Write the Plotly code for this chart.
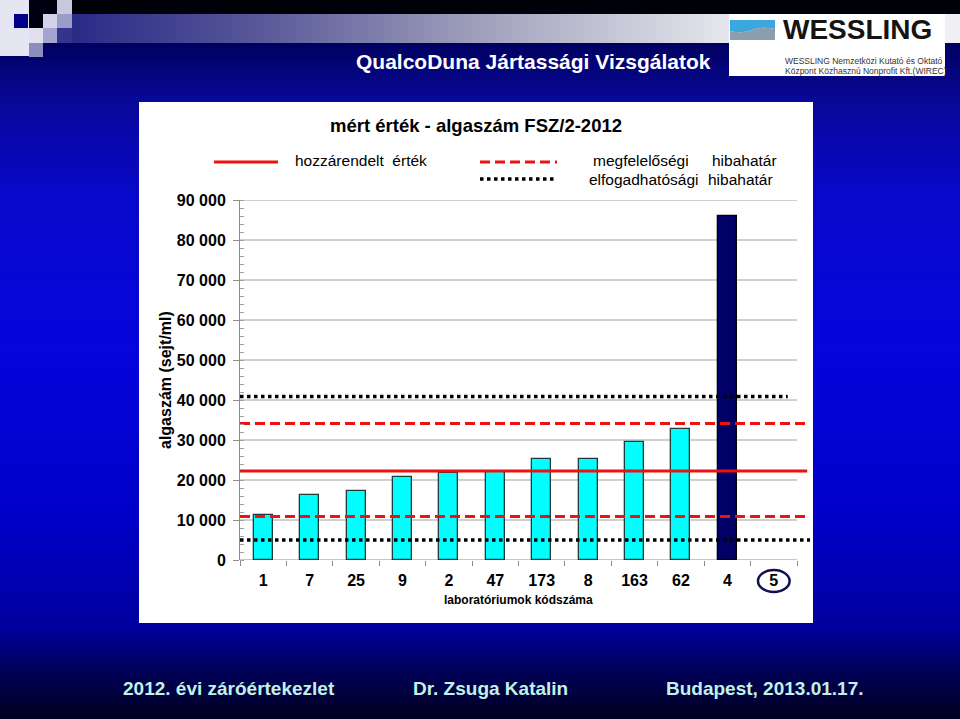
import plotly.graph_objects as go

# ---------------- data ----------------
lab_codes = ["1", "7", "25", "9", "2", "47", "173", "8", "163", "62", "4", "5"]
measured = [11200, 16200, 17250, 20700, 21800, 22100, 25250, 25300, 29500, 32800, 86000, None]
assigned_value = 22250            # hozzárendelt érték
compliance_limits = [10900, 34100]  # megfelelőségi hibahatár
acceptance_limits = [5000, 40900]   # elfogadhatósági hibahatár
ytick_vals = [0, 10000, 20000, 30000, 40000, 50000, 60000, 70000, 80000, 90000]
ytick_text = ["0", "10 000", "20 000", "30 000", "40 000", "50 000", "60 000", "70 000", "80 000", "90 000"]

# ---------------- styles ----------------
W, H = 960, 719
L, R, T, B = 240, 810, 200, 560
PW, PH = R - L, B - T
FONT = "Liberation Sans, Arial, sans-serif"
NARROW = "Liberation Sans Narrow, Arial Narrow, Liberation Sans, Arial, sans-serif"
bar_colors = ["#00ffff"] * 10 + ["#000066", "#00ffff"]
bar_line_colors = ["#1d3d3d"] * 10 + ["#000000", "#1d3d3d"]
X_MIN, X_MAX = -0.5, 11.78


def px(x):
    return (x - L) / PW


def py(y):
    return (B - y) / PH


def hexc(c):
    return "#%02x%02x%02x" % tuple(int(round(v)) for v in c)


shapes = []
annotations = []

# ---- slide background (vertical gradient) ----
stops = [(43, (0, 0, 0x60)), (100, (8, 8, 0x98)), (200, (8, 8, 0xcc)), (350, (5, 5, 0xdc)),
         (520, (0, 0, 0xc8)), (630, (0, 0, 0x9c)), (665, (0, 0, 0x60)), (719, (0, 0, 0x20))]


def grad(y):
    for (y0, c0), (y1, c1) in zip(stops[:-1], stops[1:]):
        if y0 <= y <= y1:
            t = (y - y0) / (y1 - y0)
            return tuple(a + (b - a) * t for a, b in zip(c0, c1))
    return stops[-1][1] if y > stops[-1][0] else stops[0][1]


step = 4
for y in range(40, H + 1, step):
    shapes.append(dict(type="rect", xref="paper", yref="paper", x0=px(0), x1=px(W),
                       y0=py(y), y1=py(y + step + 1), fillcolor=hexc(grad(y + step / 2)),
                       line=dict(width=0), layer="below"))

# black top band
shapes.append(dict(type="rect", xref="paper", yref="paper", x0=px(0), x1=px(W), y0=py(0), y1=py(14),
                   fillcolor="#000008", line=dict(width=0), layer="below"))
# horizontal gradient bar
bar_stops = [(72, (0x2a, 0x2a, 0x88)), (250, (0x55, 0x55, 0x98)), (480, (0xa0, 0xa0, 0xbc)),
             (720, (0xe4, 0xe4, 0xec)), (960, (0xf0, 0xf0, 0xf4))]


def hgrad(x):
    for (x0, c0), (x1, c1) in zip(bar_stops[:-1], bar_stops[1:]):
        if x0 <= x <= x1:
            t = (x - x0) / (x1 - x0)
            return tuple(a + (b - a) * t for a, b in zip(c0, c1))
    return bar_stops[-1][1]


for x in range(72, W, 8):
    shapes.append(dict(type="rect", xref="paper", yref="paper", x0=px(x), x1=px(x + 9),
                       y0=py(14), y1=py(43), fillcolor=hexc(hgrad(x + 4)),
                       line=dict(width=0), layer="below"))

# decorative squares top-left
squares = [
    (0, 0, 29, 56, "#e6e6f2"), (29, 0, 57, 14, "#000010"), (57, 0, 72, 14, "#c8c8dc"),
    (14, 14, 28, 28, "#000088"), (29, 14, 43, 28, "#000010"), (43, 14, 57, 28, "#d2d2e8"),
    (57, 14, 72, 28, "#9c9cc8"), (29, 28, 43, 43, "#e0e0f0"), (43, 28, 57, 43, "#a4a4d0"),
    (29, 43, 43, 57, "#8c8cc0"), (57, 28, 72, 43, "#34348c"),
]
for x0, y0, x1, y1, c in squares:
    shapes.append(dict(type="rect", xref="paper", yref="paper", x0=px(x0), x1=px(x1),
                       y0=py(y0), y1=py(y1), fillcolor=c, line=dict(width=0), layer="below"))

# WESSLING logo box
shapes.append(dict(type="rect", xref="paper", yref="paper", x0=px(729), x1=px(945), y0=py(14), y1=py(76),
                   fillcolor="#ffffff", line=dict(width=0), layer="below"))


def path(points_cmds):
    out = []
    for cmd in points_cmds:
        if cmd == "Z":
            out.append("Z")
        else:
            c, pts = cmd
            out.append(c + " ".join("%.5f,%.5f" % (px(a), py(b)) for a, b in pts))
    return " ".join(out)


shapes.append(dict(type="path", xref="paper", yref="paper", layer="below",
                   path=path([("M", [(730, 20)]), ("L", [(775, 20)]), ("L", [(775, 29)]),
                              ("Q", [(762, 26), (752, 30)]), ("Q", [(742, 34), (730, 31)]), "Z"]),
                   fillcolor="#3ca6de", line=dict(width=0)))
shapes.append(dict(type="path", xref="paper", yref="paper", layer="below",
                   path=path([("M", [(730, 31)]), ("Q", [(742, 34), (752, 30)]),
                              ("Q", [(762, 26), (775, 29)]), ("L", [(775, 40)]), ("L", [(730, 40)]), "Z"]),
                   fillcolor="#8a9eae", line=dict(width=0)))

# white chart panel
shapes.append(dict(type="rect", xref="paper", yref="paper", x0=px(139), x1=px(813), y0=py(102), y1=py(623),
                   fillcolor="#ffffff", line=dict(width=0), layer="below"))

# gridlines (data coordinates)
for v in ytick_vals[1:]:
    shapes.append(dict(type="line", xref="x", yref="y", x0=-0.5, x1=11.5, y0=v, y1=v,
                       line=dict(color="#a0a0a0", width=1), layer="below"))
# x axis line
shapes.append(dict(type="line", xref="x", yref="y", x0=-0.5, x1=11.5, y0=0, y1=0,
                   line=dict(color="#8c8c8c", width=1), layer="below"))

# legend samples
shapes.append(dict(type="line", xref="paper", yref="paper", x0=px(214), x1=px(278), y0=py(162), y1=py(162),
                   line=dict(color="#ee1111", width=3)))
shapes.append(dict(type="line", xref="paper", yref="paper", x0=px(480), x1=px(557), y0=py(162), y1=py(162),
                   line=dict(color="#ee1111", width=3, dash="10px,5px")))
shapes.append(dict(type="line", xref="paper", yref="paper", x0=px(480), x1=px(556), y0=py(179), y1=py(179),
                   line=dict(color="#000000", width=3.5, dash="3.5px,3.5px")))

# circle around lab 5
shapes.append(dict(type="circle", xref="x", yref="paper", x0=11 - 0.34, x1=11 + 0.34,
                   y0=py(592), y1=py(570), line=dict(color="#101050", width=2.5)))


# ---------------- texts ----------------
def ann(text, x, y, size, color="#000000", bold=False, family=FONT, xanchor="center", angle=0):
    annotations.append(dict(text=text, x=px(x), y=py(y), xref="paper", yref="paper", showarrow=False,
                            xanchor=xanchor, yanchor="middle", textangle=angle,
                            font=dict(family=family, size=size, color=color,
                                      weight="bold" if bold else "normal")))


ann("QualcoDuna Jártassági Vizsgálatok", 713, 61, 21, "#ffffff", True, xanchor="right")
ann("WESSLING", 781, 30, 28, "#141414", True, xanchor="left")
ann("WESSLING Nemzetközi Kutató és Oktató", 783, 61, 8.5, "#333333", xanchor="left")
ann("Központ Közhasznú Nonprofit Kft.(WIREC)", 783, 71, 8.5, "#333333", xanchor="left")
ann("mért érték - algaszám FSZ/2-2012", 476, 125, 18.5, "#000000", True)
ann("hozzárendelt  érték", 293, 160, 15.5, xanchor="left")
ann("megfelelőségi", 591, 160, 15.5, xanchor="left")
ann("hibahatár", 779, 160, 15.5, xanchor="right")
ann("elfogadhatósági", 587, 179, 15.5, xanchor="left")
ann("hibahatár", 775, 179, 15.5, xanchor="right")
ann("algaszám (sejt/ml)", 165, 380, 16, "#000000", True, angle=-90)
ann("laboratóriumok kódszáma", 518, 600, 12, "#000000", True)
ann("2012. évi záróértekezlet", 229, 688, 19, "#c0f2ea", True, family=NARROW)
ann("Dr. Zsuga Katalin", 490, 688, 19, "#c0f2ea", True, family=NARROW)
ann("Budapest, 2013.01.17.", 765, 688, 19, "#c0f2ea", True, family=NARROW)

# ---------------- traces ----------------
xs = list(range(len(lab_codes)))
fig = go.Figure()
fig.add_trace(go.Bar(x=xs, y=measured, width=0.41,
                     marker=dict(color=bar_colors, line=dict(color=bar_line_colors, width=1.3)),
                     hovertext=lab_codes, showlegend=False))

line_specs = [
    (acceptance_limits[1], "#000000", 3.5, "3.5px,3.5px", 11.3, "elfogadhatósági hibahatár"),
    (compliance_limits[1], "#ee1111", 3, "10px,5px", X_MAX, "megfelelőségi hibahatár"),
    (assigned_value, "#ee1111", 3, "solid", 11.72, "hozzárendelt érték"),
    (compliance_limits[0], "#ee1111", 3, "10px,5px", X_MAX, "megfelelőségi hibahatár"),
    (acceptance_limits[0], "#000000", 3.5, "3.5px,3.5px", X_MAX, "elfogadhatósági hibahatár"),
]
for val, col, wd, dash, xend, name in line_specs:
    fig.add_trace(go.Scatter(x=[X_MIN, xend], y=[val, val], mode="lines", name=name,
                             line=dict(color=col, width=wd, dash=dash), showlegend=False))

fig.update_layout(
    width=W, height=H, autosize=False,
    margin=dict(l=L, r=W - R, t=T, b=H - B, pad=0),
    paper_bgcolor="#000066", plot_bgcolor="#ffffff",
    shapes=shapes, annotations=annotations, showlegend=False,
    font=dict(family=FONT, color="#000000"),
    bargap=0,
)
fig.update_xaxes(range=[X_MIN, X_MAX], tickvals=xs, ticktext=lab_codes, ticks="", showgrid=False,
                 showline=False, zeroline=False, ticklabelstandoff=9,
                 tickfont=dict(family=FONT, size=16, color="#000000", weight="bold"),
                 minor=dict(tick0=-0.5, dtick=1, ticks="outside", ticklen=5, tickcolor="#8c8c8c",
                            showgrid=False))
fig.update_yaxes(range=[0, 90000], tickvals=ytick_vals, ticktext=ytick_text, ticks="outside", ticklen=6,
                 tickcolor="#8c8c8c", showgrid=False, zeroline=False, showline=True, linecolor="#8c8c8c",
                 linewidth=1, ticklabelstandoff=4,
                 tickfont=dict(family=FONT, size=16, color="#000000", weight="bold"),
                 minor=dict(dtick=2000, ticks="inside", ticklen=4, tickcolor="#a0a0a0", showgrid=False))

fig.write_html("out.html")
